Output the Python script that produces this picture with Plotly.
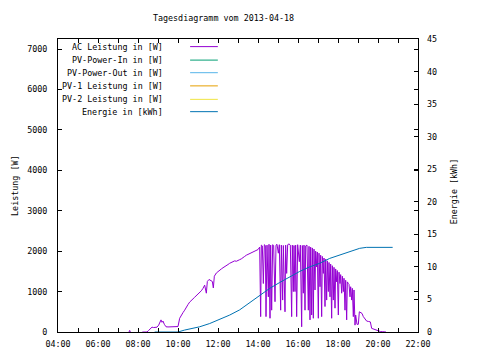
import plotly.graph_objects as go

DAY = "2013-04-18 "

ac_times = [
    "07:33", "07:35", "07:37", None,
    "08:13", "08:20", "08:27", "08:32", "08:37", "08:42", "08:47", "08:52", "08:57",
    "09:02", "09:06", "09:09", "09:12", "09:15", "09:19", "09:24", "09:30", "09:40", "09:50",
    "10:00", "10:05", "10:10", "10:15", "10:20", "10:25", "10:30", "10:35", "10:40", "10:45",
    "10:50", "10:55", "11:00", "11:05", "11:10", "11:15", "11:20", "11:25", "11:28", "11:33",
    "11:38", "11:43", "11:46", "11:49", "11:55", "12:00", "12:05", "12:10", "12:15", "12:20",
    "12:25", "12:30", "12:35", "12:40", "12:45", "12:50", "12:55", "13:00", "13:05", "13:10",
    "13:15", "13:20", "13:25", "13:30", "13:35", "13:40", "13:45", "13:50", "13:55", "14:00",
    "14:05", "14:08", "14:10", "14:13", "14:16", "14:19", "14:22", "14:24", "14:27", "14:31",
    "14:33", "14:36", "14:38", "14:41", "14:44", "14:47", "14:51", "14:54", "14:57", "15:01",
    "15:04", "15:08", "15:10", "15:14", "15:16", "15:21", "15:23", "15:26", "15:29", "15:33",
    "15:37", "15:41", "15:43", "15:46", "15:48", "15:51", "15:53", "15:56", "15:59", "16:04",
    "16:07", "16:11", "16:13", "16:16", "16:18", "16:21", "16:23", "16:27", "16:31", "16:33",
    "16:36", "16:38", "16:41", "16:43", "16:46", "16:48", "16:51", "16:53", "16:56", "16:58",
    "17:01", "17:03", "17:06", "17:08", "17:11", "17:13", "17:16", "17:18", "17:21", "17:23",
    "17:26", "17:28", "17:31", "17:33", "17:36", "17:38", "17:41", "17:43", "17:46", "17:48",
    "17:51", "17:53", "17:56", "17:58", "18:01", "18:03", "18:06", "18:08", "18:11", "18:13",
    "18:16", "18:18", "18:21", "18:23", "18:26", "18:28", "18:31", "18:33", "18:36", "18:38",
    "18:41", "18:43", "18:46", "18:48", "18:51", "18:53", "18:57", "19:01", "19:04", "19:08",
    "19:12", "19:16", "19:20", "19:26", "19:32", "19:37", "19:41", "19:47", "19:53", "19:58",
    "20:03", "20:08", "20:14", "20:20", "20:24",
]
ac_values = [
    0, 40, 0, None,
    0, 0, 0, 40, 90, 120, 110, 115, 120,
    170, 270, 300, 240, 270, 190, 130, 125, 125, 130,
    135, 340, 420, 480, 540, 620, 680, 740, 790, 820,
    860, 900, 920, 960, 1020, 1080, 1160, 960, 1250, 1300,
    1280, 1250, 1090, 1380, 1460, 1500, 1530, 1560, 1590, 1610,
    1640, 1670, 1700, 1720, 1740, 1760, 1750, 1780, 1790, 1810,
    1830, 1870, 1900, 1920, 1930, 1950, 1980, 2000, 2020, 2040,
    2100, 380, 2150, 2130, 1200, 2160, 2140, 380, 2150, 870,
    2170, 340, 2150, 540, 2160, 2140, 750, 2150, 2170, 1950,
    2160, 540, 2150, 790, 2140, 500, 2150, 1450, 2160, 2180,
    2150, 380, 2150, 1000, 2140, 1000, 2150, 380, 2160, 1740,
    2150, 130, 2140, 960, 2150, 540, 2130, 2150, 540, 2120,
    300, 2100, 420, 2080, 340, 2050, 1040, 2000, 1610, 1980,
    340, 1950, 1120, 1900, 380, 1870, 1450, 1830, 630, 1800,
    790, 1760, 1000, 1720, 870, 1680, 340, 1640, 790, 1600,
    590, 1560, 1240, 1520, 420, 1480, 1200, 1420, 960, 1380,
    1000, 1330, 540, 1280, 300, 1240, 1200, 1180, 870, 1120,
    790, 1080, 380, 1040, 170, 420, 190, 190, 500, 480,
    460, 380, 330, 270, 260, 250, 90, 70, 50, 40,
    20, 10, 8, 5, 0,
]

energy_times = ["08:50", "10:00", "10:20", "10:40", "11:05", "11:35", "12:05", "12:35",
                "13:05", "13:35", "14:05", "14:35", "15:05", "15:35", "16:05", "16:35",
                "17:05", "17:35", "18:05", "18:35", "19:05", "19:25", "20:44"]
energy_values = [0, 0, 0.3, 0.5, 0.8, 1.3, 1.95, 2.6,
                 3.4, 4.5, 5.7, 6.7, 7.6, 8.5, 9.3, 10.0,
                 10.55, 11.3, 11.8, 12.4, 12.85, 13.0, 13.0]

legend_names = ["AC Leistung in [W]", "PV-Power-In in [W]", "PV-Power-Out in [W]",
                "PV-1 Leistung in [W]", "PV-2 Leistung in [W]", "Energie in [kWh]"]
legend_colors = ["#9400d3", "#009e73", "#56b4e9", "#e69f00", "#f0e442", "#0072b2"]

FONT = "DejaVu Sans Mono"
FS = 8.4

def ts(t):
    return None if t is None else DAY + t

fig = go.Figure()
fig.add_trace(go.Scatter(x=[ts(t) for t in ac_times], y=ac_values, mode="lines",
                         line=dict(color=legend_colors[0], width=1), name=legend_names[0],
                         connectgaps=False, showlegend=False))
for i in range(1, 5):
    fig.add_trace(go.Scatter(x=[], y=[], mode="lines", name=legend_names[i],
                             line=dict(color=legend_colors[i], width=1), showlegend=False))
fig.add_trace(go.Scatter(x=[ts(t) for t in energy_times], y=energy_values, mode="lines",
                         line=dict(color=legend_colors[5], width=1), name=legend_names[5],
                         yaxis="y2", showlegend=False))

# Legend (gnuplot-style: text right-aligned, sample on the right)
row_y = [0.974, 0.928, 0.885, 0.840, 0.794, 0.752]
for name, color, yy in zip(legend_names, legend_colors, row_y):
    fig.add_annotation(x=0.297, y=yy, xref="paper", yref="paper", text=name,
                       showarrow=False, xanchor="right", yanchor="middle",
                       font=dict(family=FONT, size=FS, color="black"))
    fig.add_shape(type="line", xref="paper", yref="paper", x0=0.367, x1=0.444,
                  y0=yy, y1=yy, line=dict(color=color, width=1))

fig.add_annotation(x=-0.121, y=0.5, xref="paper", yref="paper", text="Leistung [W]",
                   showarrow=False, textangle=-90, xanchor="center", yanchor="middle",
                   font=dict(family=FONT, size=FS, color="black"))
fig.add_annotation(x=1.1, y=0.48, xref="paper", yref="paper", text="Energie [kWh]",
                   showarrow=False, textangle=-90, xanchor="center", yanchor="middle",
                   font=dict(family=FONT, size=FS, color="black"))

# The page body adds an 8px offset; the figure is sized/margined to compensate.
fig.update_layout(
    width=472, height=352,
    margin=dict(l=50, r=62, t=31, b=28),
    paper_bgcolor="white", plot_bgcolor="white",
    font=dict(family=FONT, size=FS, color="black"),
    title=dict(text="Tagesdiagramm vom 2013-04-18", x=215.5 / 472, xanchor="center",
               y=1 - 10 / 352, yanchor="middle", xref="container", yref="container",
               font=dict(family=FONT, size=FS, color="black")),
    showlegend=False,
    xaxis=dict(type="date", range=[DAY + "04:00", DAY + "22:00"], tickformat="%H:%M",
               dtick=7200000, tick0=DAY + "04:00", ticks="inside", ticklen=4,
               minor=dict(dtick=3600000, ticks="inside", ticklen=4, tickcolor="black"),
               showline=True, linecolor="black", linewidth=1, mirror="ticks",
               showgrid=False, zeroline=False, tickcolor="black", ticklabelstandoff=4),
    yaxis=dict(range=[0, 7250], dtick=1000, ticks="inside", ticklen=4,
               showline=True, linecolor="black", linewidth=1, mirror="ticks",
               showgrid=False, zeroline=False, tickcolor="black", ticklabelstandoff=8),
    yaxis2=dict(range=[0, 45], dtick=5, overlaying="y", side="right", ticks="inside",
                ticklen=4, showline=False, showgrid=False, zeroline=False,
                tickcolor="black", ticklabelstandoff=8),
)

fig.write_html("out.html")
